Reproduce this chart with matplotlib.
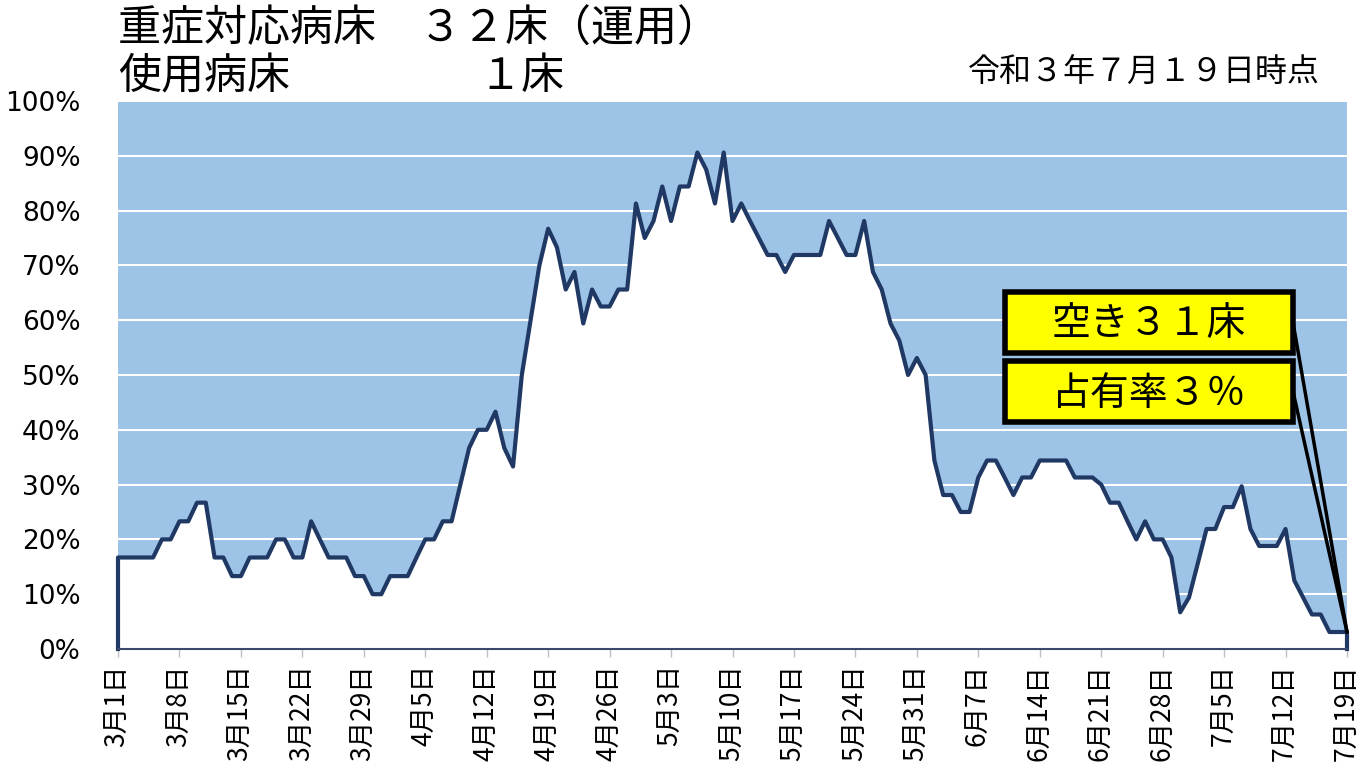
import pandas as pd
import matplotlib.pyplot as plt
import matplotlib.patches as mpatches

plt.rcParams['font.family'] = ['Noto Sans CJK JP', 'DejaVu Sans']

# 日ごとの病床使用率 (%) 3月1日〜7月19日
dates = pd.date_range('2021-03-01', '2021-07-19', freq='D')
occupancy = [
    16.7, 16.7, 16.7, 16.7, 16.7, 20.0, 20.0, 23.3, 23.3, 26.7,
    26.7, 16.7, 16.7, 13.3, 13.3, 16.7, 16.7, 16.7, 20.0, 20.0,
    16.7, 16.7, 23.3, 20.0, 16.7, 16.7, 16.7, 13.3, 13.3, 10.0,
    10.0, 13.3, 13.3, 13.3, 16.7, 20.0, 20.0, 23.3, 23.3, 30.0,
    36.7, 40.0, 40.0, 43.3, 36.7, 33.3, 50.0, 60.0, 70.0, 76.7,
    73.3, 65.6, 68.8, 59.4, 65.6, 62.5, 62.5, 65.6, 65.6, 81.3,
    75.0, 78.1, 84.4, 78.1, 84.4, 84.4, 90.6, 87.5, 81.3, 90.6,
    78.1, 81.3, 78.1, 75.0, 71.9, 71.9, 68.8, 71.9, 71.9, 71.9,
    71.9, 78.1, 75.0, 71.9, 71.9, 78.1, 68.8, 65.6, 59.4, 56.3,
    50.0, 53.1, 50.0, 34.4, 28.1, 28.1, 25.0, 25.0, 31.3, 34.4,
    34.4, 31.3, 28.1, 31.3, 31.3, 34.4, 34.4, 34.4, 34.4, 31.3,
    31.3, 31.3, 30.0, 26.7, 26.7, 23.3, 20.0, 23.3, 20.0, 20.0,
    16.7, 6.7, 9.4, 15.6, 21.9, 21.9, 25.9, 25.9, 29.7, 21.9,
    18.8, 18.8, 18.8, 21.9, 12.5, 9.4, 6.3, 6.3, 3.1, 3.1,
    3.1,
]

title1 = '重症対応病床　３２床（運用）'
title2 = '使用病床'
title2_value = '１床'
as_of = '令和３年７月１９日時点'
label_free = '空き３１床'
label_rate = '占有率３％'

W, H = 1363, 766
fig = plt.figure(figsize=(W / 100, H / 100), dpi=100)
fig.patch.set_facecolor('white')


def px(x, y):
    return x / W, 1 - y / H


ax = fig.add_axes([118 / W, 1 - 649 / H, (1347 - 118) / W, (649 - 101) / H])
ax.set_facecolor('#9DC3E6')

line_x = [dates[0]] + list(dates) + [dates[-1]]
line_y = [0] + occupancy + [0]
ax.fill_between(dates, occupancy, 0, color='white', zorder=2, lw=0)
ax.plot(line_x, line_y, color='#1F3864', lw=3.0, zorder=3,
        solid_joinstyle='round', clip_on=False)

ax.set_xlim(dates[0], dates[-1])
ax.set_ylim(0, 100)
ax.set_yticks(range(0, 101, 10))
ax.set_yticklabels([f'{v}%' for v in range(0, 101, 10)])
tick_dates = dates[::7]
ax.set_xticks(tick_dates)
ax.set_xticklabels([f'{d.month}月{d.day}日' for d in tick_dates],
                   rotation=90, va='top', ha='center')
ax.grid(axis='y', color='white', lw=1.5)
ax.set_axisbelow(True)

for s in ['left', 'top', 'right']:
    ax.spines[s].set_visible(False)
ax.spines['bottom'].set_color('#3A4A6B')
ax.spines['bottom'].set_linewidth(1.5)
ax.spines['bottom'].set_zorder(4)

ax.tick_params(axis='y', length=0, pad=27, labelsize=19,
               labelfontfamily='DejaVu Sans', colors='black')
ax.tick_params(axis='x', length=6, width=1, color='#BFBFBF', pad=5,
               labelsize=19)

# タイトル
fig.text(*px(118, 42), title1, fontsize=31, va='baseline', ha='left')
fig.text(*px(118, 89), title2, fontsize=31, va='baseline', ha='left')
fig.text(*px(478, 89), title2_value, fontsize=31, va='baseline', ha='left')
fig.text(*px(1320, 82), as_of, fontsize=23, va='baseline', ha='right')

# 吹き出し
boxes = [(292, 353, label_free), (361, 422, label_rate)]
for top, bottom, txt in boxes:
    x0, y0 = px(1005, bottom)
    x1, y1 = px(1293, top)
    rect = mpatches.Rectangle((x0, y0), x1 - x0, y1 - y0,
                              transform=fig.transFigure, facecolor='#FFFF00',
                              edgecolor='black', lw=4, zorder=6)
    fig.add_artist(rect)
    fig.text(*px(1149, (top + bottom) / 2 + 2), txt, fontsize=28,
             ha='center', va='center', zorder=7)
    ax.annotate('', xy=(dates[-1], occupancy[-1]), xycoords='data',
                xytext=px(1293, (top + bottom) / 2), textcoords='figure fraction',
                arrowprops=dict(arrowstyle='-', color='black', lw=2.5,
                                shrinkA=0, shrinkB=0), zorder=5,
                annotation_clip=False)

fig.savefig('out.png', dpi=100)
